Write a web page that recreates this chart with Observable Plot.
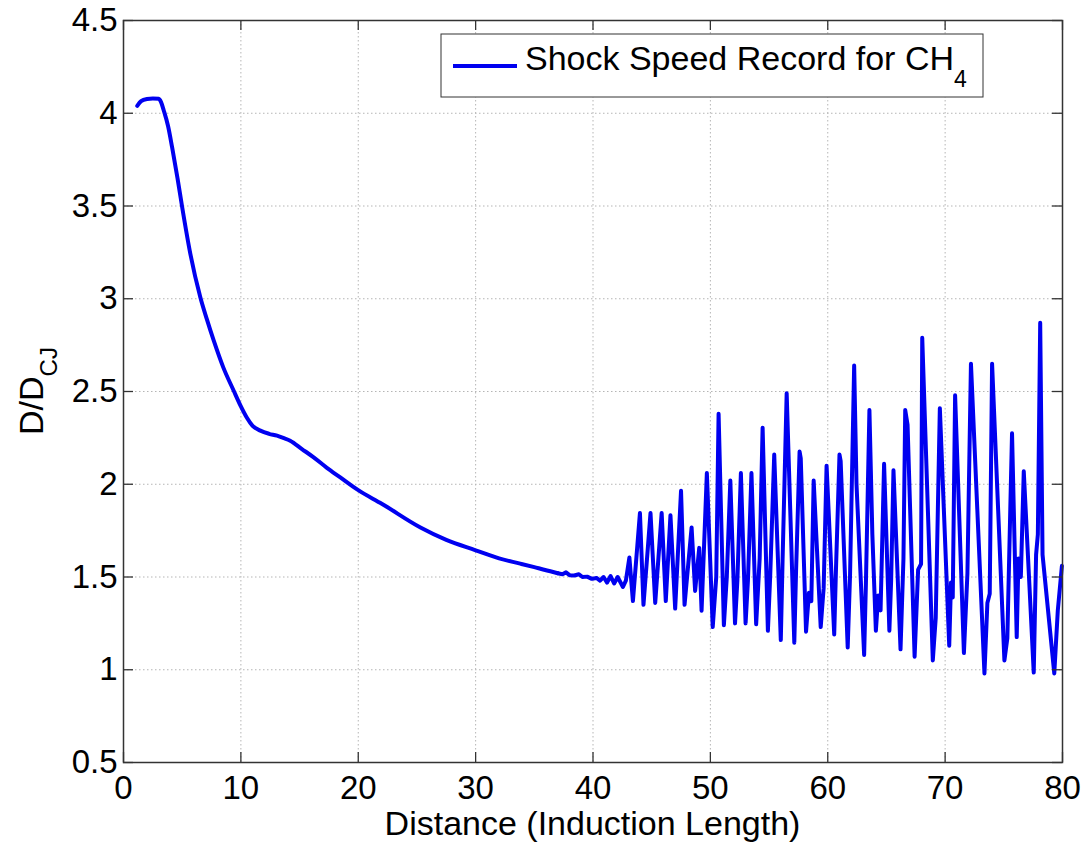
<!DOCTYPE html>
<html><head><meta charset="utf-8">
<script src="https://cdn.jsdelivr.net/npm/d3@7"></script>
<script src="https://cdn.jsdelivr.net/npm/@observablehq/plot@0.6"></script>
<style>body{margin:0;background:#fff}</style>
</head><body><div id="chart"></div>
<script>
const distance = [1.17,1.5,2.0,2.5,3.0,3.2,3.43,3.8,4.14,4.6,5.0,5.7,6.55,7.1,7.69,8.5,9.39,10.0,10.5,11.0,11.66,12.4,13.08,13.6,14.2,15.2,16.2,17.3,18.47,20,22,25.3,27.5,30,32,33.8,35,36.6,37.0,37.4,37.7,38.0,38.4,38.8,39.1,39.5,39.9,40.3,40.6,40.9,41.2,41.5,41.8,42.1,42.55,42.8,
43.1,43.4,44.0,44.3,44.9,45.3,45.85,46.2,46.6,47.0,47.5,47.8,48.4,48.7,49.05,49.25,49.7,50.2,50.5,50.7,51.15,51.4,51.7,52.1,52.3,52.6,
53.0,53.2,53.5,53.9,54.2,54.45,54.9,55.1,55.44,56.0,56.15,56.5,57.15,57.3,57.6,57.7,58.15,58.4,58.6,58.8,59.4,59.65,59.9,60.55,60.7,61.0,61.1,61.7,61.9,62.25,62.45,63.1,63.25,63.55,63.8,64.1,64.3,64.5,64.8,65.25,65.4,65.6,66.2,66.45,66.6,66.8,67.4,67.7,67.95,68.05,68.95,69.2,69.55,70.35,70.5,70.65,70.85,71.6,71.9,72.2,73.35,73.6,73.8,74.0,75.05,75.3,75.7,76.1,76.25,76.45,76.7,77.55,77.75,77.9,78.1,78.3,79.3,79.6,79.95];
const speed = [4.04,4.065,4.077,4.08,4.078,4.06,4.015,3.93,3.817,3.65,3.493,3.24,3.007,2.89,2.774,2.63,2.504,2.42,2.36,2.315,2.289,2.272,2.262,2.25,2.235,2.19,2.145,2.09,2.037,1.968,1.895,1.767,1.70,1.644,1.60,1.572,1.553,1.527,1.52,1.515,1.525,1.51,1.508,1.515,1.50,1.502,1.49,1.495,1.48,1.50,1.47,1.505,1.465,1.50,1.446,1.48,
1.605,1.37,1.845,1.35,1.845,1.36,1.845,1.37,1.833,1.33,1.965,1.35,1.767,1.425,1.657,1.318,2.06,1.23,1.50,2.38,1.24,1.50,2.02,1.25,1.48,2.06,
1.25,1.48,2.06,1.245,1.60,2.305,1.21,1.51,2.16,1.16,1.586,2.49,1.146,1.53,2.176,2.14,1.205,1.415,1.37,2.02,1.23,1.44,2.10,1.19,1.54,2.16,2.125,1.12,1.51,2.64,2.0,1.08,1.46,2.40,1.73,1.21,1.40,1.32,2.11,1.21,1.48,2.075,1.11,1.60,2.40,2.32,1.07,1.54,1.57,2.79,1.05,1.28,2.41,1.13,1.47,1.39,2.48,1.09,1.52,2.65,0.98,1.36,1.41,2.65,1.05,1.17,2.275,1.176,1.60,1.50,2.07,0.985,1.62,1.73,2.87,1.62,0.98,1.32,1.56];
const xTicks = [0,10,20,30,40,50,60,70,80];
const yTicks = [0.5,1,1.5,2,2.5,3,3.5,4,4.5];
const seriesName = "Shock Speed Record for CH";
const seriesSub = "4";
const xLabel = "Distance (Induction Length)";
const yLabelMain = "D/D";
const yLabelSub = "CJ";
const smoothUntil = 37.0; // end of the smooth decay (curve interpolation used before it)

const W = 1083, H = 844, ML = 123, MR = 21, MT = 20, MB = 82;
const innerH = H - MT - MB, innerW = W - ML - MR;
const TL = 10;
const FONT = "'Liberation Sans', Arial, Helvetica, sans-serif";
const data = distance.map((d, i) => ({x: d, y: speed[i]}));
const smooth = data.filter(d => d.x <= smoothUntil);
const rough = data.filter(d => d.x >= smoothUntil);

const chart = Plot.plot({
  width: W, height: H,
  marginLeft: ML, marginRight: MR, marginTop: MT, marginBottom: MB,
  style: {fontFamily: FONT, fontSize: "33px", color: "#000", background: "#fff"},
  x: {domain: [0, 80]},
  y: {domain: [0.5, 4.5]},
  marks: [
    Plot.gridX(xTicks, {stroke: "#b5b5b5", strokeOpacity: 1, strokeDasharray: "1.5,2.5"}),
    Plot.gridY(yTicks, {stroke: "#b5b5b5", strokeOpacity: 1, strokeDasharray: "1.5,2.5"}),
    Plot.line(smooth, {x: "x", y: "y", stroke: "#0000f0", strokeWidth: 4, strokeLinejoin: "round", strokeLinecap: "round", curve: "monotone-x"}),
    Plot.line(rough, {x: "x", y: "y", stroke: "#0000f0", strokeWidth: 4, strokeLinejoin: "round", strokeLinecap: "round"}),
    Plot.ruleX(xTicks, {x: d => d, insetTop: innerH - TL, stroke: "#333", strokeWidth: 1.3}),
    Plot.ruleX(xTicks, {x: d => d, insetBottom: innerH - TL, stroke: "#333", strokeWidth: 1.3}),
    Plot.ruleY(yTicks, {y: d => d, insetRight: innerW - TL, stroke: "#333", strokeWidth: 1.3}),
    Plot.ruleY(yTicks, {y: d => d, insetLeft: innerW - TL, stroke: "#333", strokeWidth: 1.3}),
    Plot.frame({stroke: "#333", strokeWidth: 1.5}),
    Plot.axisX({ticks: xTicks, tickSize: 0, tickPadding: 13, tickFormat: d => String(d), label: null, fontSize: 33}),
    Plot.axisY({ticks: yTicks, tickSize: 0, tickPadding: 6, tickFormat: d => String(d), label: null, fontSize: 33})
  ]
});
document.getElementById("chart").appendChild(chart);

const svg = d3.select(chart);
// x label
svg.append("text")
  .attr("x", ML + innerW / 2).attr("y", 835)
  .attr("text-anchor", "middle")
  .attr("font-family", FONT).attr("font-size", 34).attr("fill", "#000")
  .text(xLabel);
// y label with subscript
const yl = svg.append("text")
  .attr("transform", `translate(43,${MT + innerH / 2}) rotate(-90)`)
  .attr("text-anchor", "middle")
  .attr("font-family", FONT).attr("font-size", 34).attr("fill", "#000");
yl.append("tspan").text(yLabelMain);
yl.append("tspan").attr("font-size", 24).attr("dy", 14).text(yLabelSub);

// legend
const lg = svg.append("g");
lg.append("rect").attr("x", 441).attr("y", 34).attr("width", 542).attr("height", 63)
  .attr("fill", "#fff").attr("stroke", "#333").attr("stroke-width", 1);
lg.append("line").attr("x1", 453).attr("x2", 517).attr("y1", 66).attr("y2", 66)
  .attr("stroke", "#0000f0").attr("stroke-width", 4);
const lt = lg.append("text").attr("x", 525).attr("y", 70)
  .attr("text-anchor", "start")
  .attr("font-family", FONT).attr("font-size", 34).attr("fill", "#000");
lt.append("tspan").text(seriesName);
lt.append("tspan").attr("font-size", 23).attr("dy", 17).text(seriesSub);
</script>
</body></html>
